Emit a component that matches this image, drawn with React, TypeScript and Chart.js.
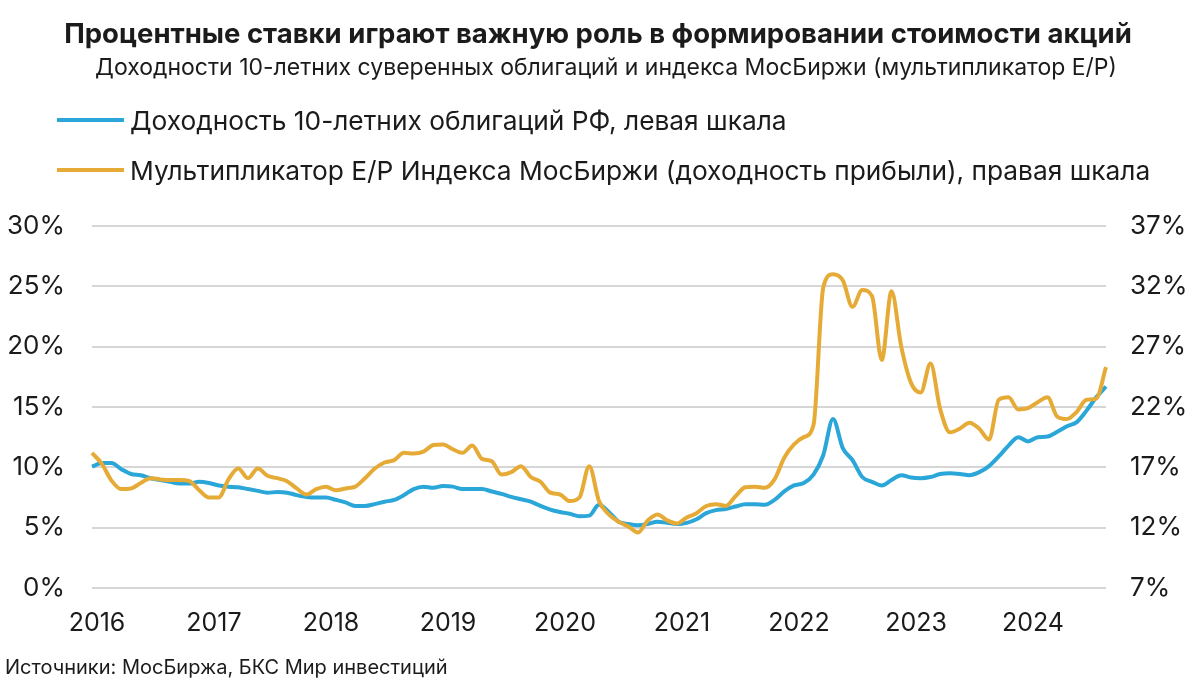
import React, { useEffect, useRef } from "react";
import { Chart, registerables } from "chart.js";

Chart.register(...registerables);

const TITLE = "Процентные ставки играют важную роль в формировании стоимости акций";
const SUBTITLE = "Доходности 10-летних суверенных облигаций и индекса МосБиржи (мультипликатор Е/Р)";
const SOURCE = "Источники: МосБиржа, БКС Мир инвестиций";
const SERIES_NAMES = [
  "Доходность 10-летних облигаций РФ, левая шкала",
  "Мультипликатор Е/Р Индекса МосБиржи (доходность прибыли), правая шкала",
];
const COLORS = ["#2AA6D8", "#E6AB37"];

const YEARS = ["2016", "2017", "2018", "2019", "2020", "2021", "2022", "2023", "2024"];
const MONTHS = ["01", "02", "03", "04", "05", "06", "07", "08", "09", "10", "11", "12"];
// monthly categories Jan 2016 .. Sep 2024
const categories: string[] = [];
YEARS.forEach((y) => MONTHS.forEach((m) => categories.push(`${y}-${m}`)));
categories.splice(105);

const LEFT_TICKS = [0, 5, 10, 15, 20, 25, 30];
const RIGHT_TICKS = [7, 12, 17, 22, 27, 32, 37];

// Доходность 10-летних ОФЗ, %
const bondYield = [
  10.05, 10.35, 10.35, 9.85, 9.45, 9.35, 9.1, 8.95, 8.8, 8.65, 8.65, 8.8,
  8.7, 8.5, 8.4, 8.35, 8.2, 8.05, 7.9, 7.95, 7.9, 7.7, 7.55, 7.5,
  7.5, 7.3, 7.1, 6.8, 6.8, 6.95, 7.15, 7.3, 7.7, 8.2, 8.4, 8.3,
  8.45, 8.4, 8.2, 8.2, 8.2, 8.0, 7.8, 7.55, 7.35, 7.15, 6.8, 6.5,
  6.3, 6.15, 5.95, 6.0, 6.9, 6.3, 5.5, 5.3, 5.2, 5.3, 5.5, 5.4,
  5.3, 5.4, 5.7, 6.2, 6.45, 6.55, 6.75, 6.95, 6.95, 6.9, 7.3, 8.0,
  8.5, 8.7, 9.4, 11.0, 14.0, 11.6, 10.6, 9.2, 8.8, 8.5, 8.95, 9.35,
  9.15, 9.1, 9.2, 9.45, 9.5, 9.45, 9.35, 9.6, 10.1, 10.9, 11.8, 12.5,
  12.15, 12.5, 12.55, 12.95, 13.4, 13.75, 14.7, 15.8, 16.7,
];

// E/P Индекса МосБиржи, %
const earningsYield = [
  18.2, 17.3, 15.9, 15.2, 15.25, 15.7, 16.1, 16.0, 15.95, 15.95, 15.85, 15.1,
  14.5, 14.5, 16.0, 16.9, 16.1, 16.9, 16.3, 16.1, 15.85, 15.25, 14.75, 15.2,
  15.4, 15.1, 15.25, 15.4, 16.1, 16.9, 17.4, 17.6, 18.2, 18.15, 18.3, 18.85,
  18.9, 18.5, 18.2, 18.8, 17.7, 17.5, 16.4, 16.6, 17.1, 16.2, 15.8, 14.9,
  14.75, 14.2, 14.5, 17.1, 14.2, 13.1, 12.5, 12.1, 11.6, 12.6, 13.1, 12.6,
  12.35, 12.85, 13.2, 13.8, 13.95, 13.8, 14.6, 15.35, 15.4, 15.3, 16.0, 17.8,
  18.9, 19.5, 20.5, 31.9, 33.0, 32.5, 30.3, 31.7, 31.2, 25.9, 31.6, 27.0,
  24.0, 23.2, 25.6, 21.8, 19.9, 20.2, 20.7, 20.2, 19.3, 22.6, 22.8, 21.8,
  21.9, 22.4, 22.8, 21.2, 21.0, 21.6, 22.6, 22.7, 25.3,
];

const FONT = 'Inter, "Liberation Sans", Arial, sans-serif';
const TEXT = "#1b1b1b";

export default function App() {
  const ref = useRef<HTMLCanvasElement | null>(null);

  useEffect(() => {
    document.body.style.margin = "0";
    if (!ref.current) return;
    const chart = new Chart(ref.current, {
      type: "line",
      data: {
        labels: categories,
        datasets: [
          {
            label: SERIES_NAMES[0],
            data: bondYield,
            borderColor: COLORS[0],
            backgroundColor: COLORS[0],
            borderWidth: 4,
            pointRadius: 0,
            cubicInterpolationMode: "monotone",
            yAxisID: "y",
            order: 2,
          },
          {
            label: SERIES_NAMES[1],
            data: earningsYield,
            borderColor: COLORS[1],
            backgroundColor: COLORS[1],
            borderWidth: 4,
            pointRadius: 0,
            cubicInterpolationMode: "monotone",
            yAxisID: "y1",
            order: 1,
          },
        ],
      },
      options: {
        responsive: false,
        animation: false,
        layout: { padding: { top: 226, bottom: 40, left: 0, right: 14 } },
        plugins: { legend: { display: false }, tooltip: { enabled: false }, title: { display: false } },
        scales: {
          x: {
            type: "category",
            offset: false,
            grid: { display: false, drawTicks: false },
            border: { display: false },
            ticks: {
              autoSkip: false,
              maxRotation: 0,
              padding: 20,
              labelOffset: 5,
              color: TEXT,
              font: { family: FONT, size: 25 },
              callback: function (_v: any, i: number) {
                const c = categories[i];
                return c.endsWith("-01") ? c.slice(0, 4) : null;
              },
            },
            afterFit: (s: any) => {
              s.height = 59;
            },
          },
          y: {
            position: "left",
            min: LEFT_TICKS[0],
            max: LEFT_TICKS[LEFT_TICKS.length - 1],
            afterBuildTicks: (s: any) => {
              s.ticks = LEFT_TICKS.map((v) => ({ value: v }));
            },
            grid: { color: "#d6d6d6", lineWidth: 2, drawTicks: false },
            border: { display: false },
            ticks: {
              padding: 27,
              color: TEXT,
              font: { family: FONT, size: 26 },
              callback: (v: any) => `${v}%`,
            },
            afterFit: (s: any) => {
              s.width = 92;
            },
          },
          y1: {
            position: "right",
            min: RIGHT_TICKS[0],
            max: RIGHT_TICKS[RIGHT_TICKS.length - 1],
            afterBuildTicks: (s: any) => {
              s.ticks = RIGHT_TICKS.map((v) => ({ value: v }));
            },
            grid: { display: false, drawTicks: false },
            border: { display: false },
            ticks: {
              padding: 24,
              color: TEXT,
              font: { family: FONT, size: 26 },
              callback: (v: any) => `${v}%`,
            },
            afterFit: (s: any) => {
              s.width = 80;
            },
          },
        },
      },
    });
    return () => chart.destroy();
  }, []);

  const legendRow = (i: number, top: number) => (
    <div
      style={{
        position: "absolute",
        left: 57,
        top,
        height: 40,
        display: "flex",
        alignItems: "center",
        whiteSpace: "nowrap",
      }}
    >
      <div style={{ width: 67, height: 4, background: COLORS[i], marginRight: 6 }} />
      <span style={{ fontSize: 26.3, color: TEXT }}>{SERIES_NAMES[i]}</span>
    </div>
  );

  return (
    <div
      style={{
        position: "fixed",
        left: 0,
        top: 0,
        width: 1200,
        height: 687,
        background: "#fff",
        fontFamily: FONT,
        overflow: "hidden",
      }}
    >
      <canvas ref={ref} width={1200} height={687} style={{ position: "absolute", left: 0, top: 0 }} />
      <div
        style={{
          position: "absolute",
          left: -2,
          width: 1200,
          top: 16,
          textAlign: "center",
          fontSize: 27.5,
          fontWeight: 700,
          color: TEXT,
          whiteSpace: "nowrap",
        }}
      >
        {TITLE}
      </div>
      <div
        style={{
          position: "absolute",
          left: 6,
          width: 1200,
          top: 53,
          textAlign: "center",
          fontSize: 23,
          color: TEXT,
          whiteSpace: "nowrap",
        }}
      >
        {SUBTITLE}
      </div>
      {legendRow(0, 100)}
      {legendRow(1, 150)}
      <div style={{ position: "absolute", left: 5, top: 655, fontSize: 20, color: TEXT, whiteSpace: "nowrap" }}>
        {SOURCE}
      </div>
    </div>
  );
}
